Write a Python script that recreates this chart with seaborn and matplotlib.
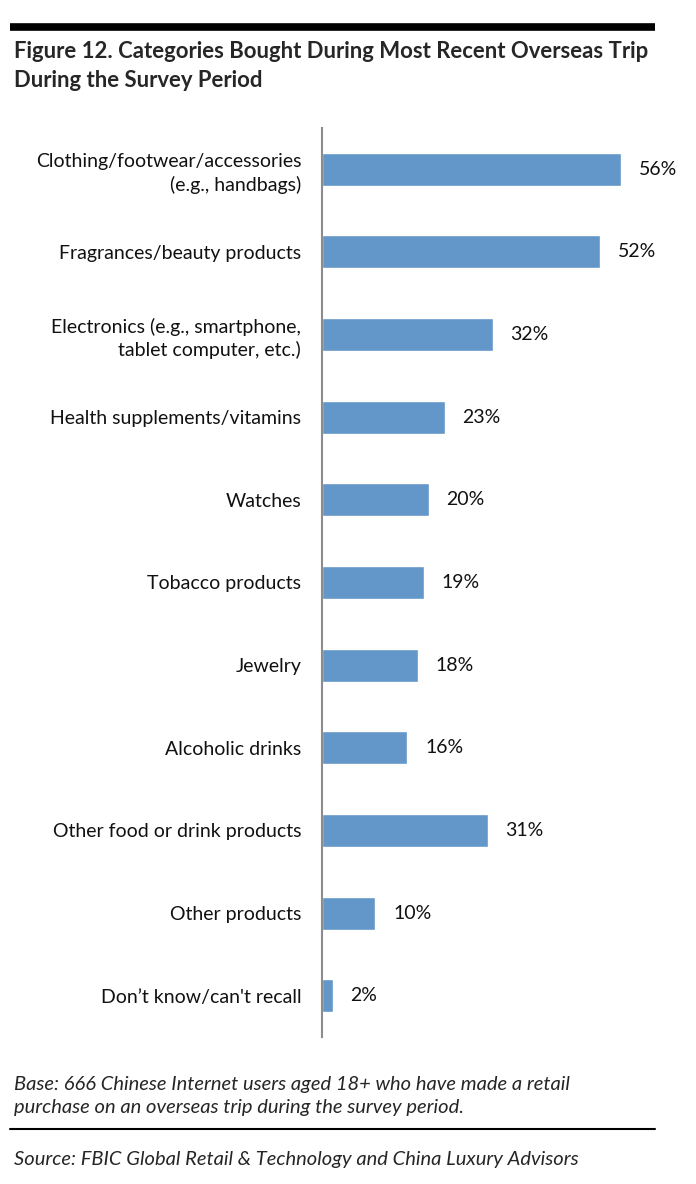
import matplotlib
matplotlib.use("Agg")
import matplotlib.pyplot as plt
import seaborn as sns
import pandas as pd

categories = [
    "Clothing/footwear/accessories\n(e.g., handbags)",
    "Fragrances/beauty products",
    "Electronics (e.g., smartphone,\ntablet computer, etc.)",
    "Health supplements/vitamins",
    "Watches",
    "Tobacco products",
    "Jewelry",
    "Alcoholic drinks",
    "Other food or drink products",
    "Other products",
    "Don\u2019t know/can't recall",
]
values = [56, 52, 32, 23, 20, 19, 18, 16, 31, 10, 2]

df = pd.DataFrame({"category": categories, "pct": values})

sns.set_style("white")
plt.rcParams["font.family"] = ["Lato", "DejaVu Sans"]

W, H = 696, 1184
fig = plt.figure(figsize=(W / 100, H / 100), dpi=100)

# axes placed in pixel terms: value axis line at x=322, spans y 128..1037
ax = fig.add_axes([322 / W, 1 - 1037 / H, 374 / W, (1037 - 128) / H])
sns.barplot(data=df, x="pct", y="category", color="#6396c9", width=0.4,
            saturation=1, ax=ax, orient="h")
ax.set_xlim(0, 70)
ax.set_xlabel("")
ax.set_ylabel("")
ax.set_xticks([])
for s in ["top", "right", "bottom"]:
    ax.spines[s].set_visible(False)
ax.spines["left"].set_color("#8c8c8c")
ax.spines["left"].set_linewidth(1.5)
ax.tick_params(axis="y", length=0, pad=15, labelsize=14, labelcolor="#111111")
for lab in ax.get_yticklabels():
    lab.set_horizontalalignment("right")
    lab.set_multialignment("right")
    lab.set_linespacing(1.35)

for i, v in enumerate(values):
    ax.text(v + 3.3, i, f"{v}%", va="center", ha="left", fontsize=14,
            color="#111111")

# header rule and title
fig.add_artist(plt.Line2D([10 / W, 655 / W], [1 - 27 / H, 1 - 27 / H],
                          color="black", linewidth=5.5, solid_capstyle="butt"))
fig.text(14 / W, 1 - 41 / H,
         "Figure 12. Categories Bought During Most Recent Overseas Trip\nDuring the Survey Period",
         fontsize=15.9, fontweight="bold", va="top", ha="left", linespacing=1.45)

# footer
fig.text(14 / W, 1 - 1076 / H,
         "Base: 666 Chinese Internet users aged 18+ who have made a retail\npurchase on an overseas trip during the survey period.",
         fontsize=14.5, style="italic", va="top", ha="left", linespacing=1.45)
fig.add_artist(plt.Line2D([10 / W, 655 / W], [1 - 1129 / H, 1 - 1129 / H],
                          color="black", linewidth=1.5))
fig.text(14 / W, 1 - 1159 / H,
         "Source: FBIC Global Retail & Technology and China Luxury Advisors",
         fontsize=14.5, style="italic", va="center", ha="left")

fig.savefig("out.png", dpi=100)
